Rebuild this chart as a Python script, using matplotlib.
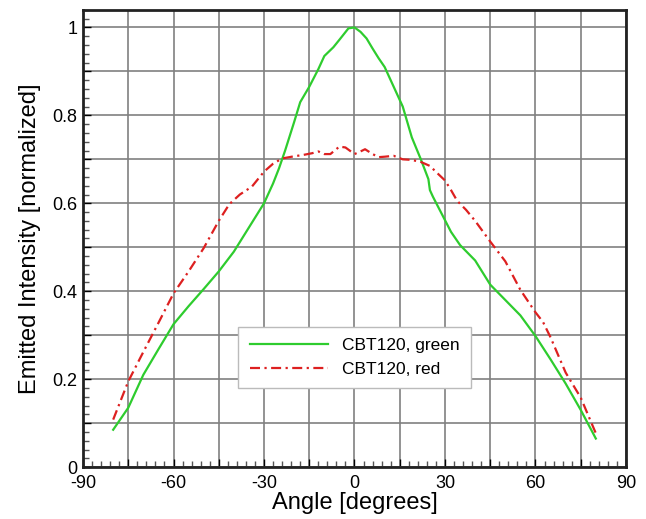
import numpy as np
import matplotlib
matplotlib.use('Agg')
import matplotlib.pyplot as plt
from matplotlib.ticker import MultipleLocator, FuncFormatter

plt.rcParams['font.family'] = ['Liberation Sans', 'DejaVu Sans']

# values
green_angle = [-80, -75, -70, -65, -60, -55, -50, -45, -40, -35, -30, -27, -25, -23,
               -20, -18, -15, -12, -10, -7, -5, -2, 0, 2, 4, 6, 8, 10, 13, 16, 19,
               22, 24.5, 25, 26, 29, 32, 35, 40, 45, 50, 55, 60, 65, 70, 75, 80]
green_val = [0.085, 0.135, 0.21, 0.268, 0.325, 0.366, 0.405, 0.445, 0.49, 0.545, 0.60,
             0.645, 0.68, 0.72, 0.785, 0.83, 0.865, 0.905, 0.935, 0.955, 0.972, 0.998,
             1.0, 0.99, 0.975, 0.952, 0.93, 0.91, 0.865, 0.82, 0.75, 0.70, 0.655,
             0.63, 0.615, 0.575, 0.535, 0.505, 0.47, 0.415, 0.38, 0.345, 0.298,
             0.245, 0.19, 0.13, 0.065]

red_angle = [-80, -75, -70, -67.5, -65, -60, -55, -50, -45, -41.5, -38, -34, -30, -27,
             -24, -20, -17, -14, -12, -10, -8, -5, -3, 0, 2, 3.5, 6, 8, 10, 13, 16,
             18.4, 21.7, 25, 28, 30, 32, 34, 37, 40, 45, 50, 55, 60, 62.5, 65, 70,
             75, 80]
red_val = [0.108, 0.195, 0.262, 0.295, 0.328, 0.395, 0.445, 0.498, 0.56, 0.598, 0.62,
           0.638, 0.672, 0.69, 0.702, 0.707, 0.71, 0.714, 0.718, 0.712, 0.712, 0.729,
           0.727, 0.712, 0.718, 0.723, 0.712, 0.705, 0.706, 0.708, 0.70, 0.699,
           0.695, 0.685, 0.665, 0.652, 0.63, 0.606, 0.585, 0.56, 0.513, 0.468,
           0.403, 0.352, 0.33, 0.295, 0.215, 0.158, 0.077]

fig, ax = plt.subplots(figsize=(6.46, 5.19), dpi=100)
fig.subplots_adjust(left=0.1285, right=0.969, top=0.981, bottom=0.100)

ax.plot(green_angle, green_val, color='#2ecc2e', lw=1.6, label='CBT120, green')
ax.plot(red_angle, red_val, color='#dd2020', lw=1.6, ls=(0, (4.5, 2, 1, 2)),
        label='CBT120, red')

ax.set_xlim(-90, 90)
ax.set_ylim(0, 1.04)

ax.xaxis.set_major_locator(MultipleLocator(15))
ax.xaxis.set_minor_locator(MultipleLocator(3))
ax.yaxis.set_major_locator(MultipleLocator(0.1))
ax.yaxis.set_minor_locator(MultipleLocator(0.02))

# only every other gridline gets a label
ax.xaxis.set_major_formatter(FuncFormatter(
    lambda v, p: f'{int(round(v))}' if round(v) % 30 == 0 else ''))
ax.yaxis.set_major_formatter(FuncFormatter(
    lambda v, p: f'{v:g}' if round(v * 10) % 2 == 0 else ''))

ax.grid(True, which='major', color='#808080', lw=1.2)
ax.tick_params(which='both', direction='in', top=False, right=False, labelsize=13)
ax.tick_params(axis='x', pad=6)
ax.tick_params(axis='y', pad=4)
ax.tick_params(which='major', length=6, width=1)
ax.tick_params(which='minor', length=4, width=1, color='#555555')
for s in ax.spines.values():
    s.set_linewidth(2)
    s.set_color('#222222')

ax.set_xlabel('Angle [degrees]', fontsize=17, labelpad=0)
ax.set_ylabel('Emitted Intensity [normalized]', fontsize=17, labelpad=8)

leg = ax.legend(loc='center', bbox_to_anchor=(0.5, 0.24), fontsize=12.5,
                fancybox=False, framealpha=1, edgecolor='#bbbbbb',
                handlelength=4.5, borderpad=0.65, labelspacing=0.5)
leg.get_frame().set_linewidth(1)

fig.savefig('out.png', dpi=100)
